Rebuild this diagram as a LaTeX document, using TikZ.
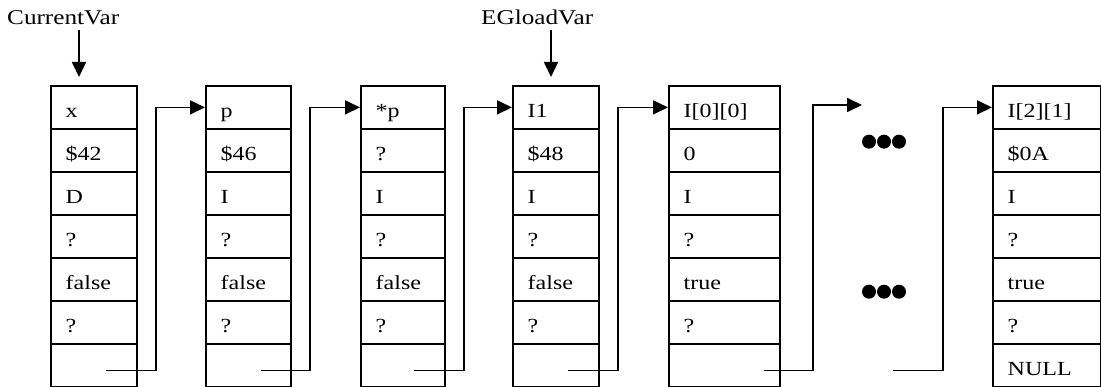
\documentclass[tikz,border=0pt]{standalone}
\usepackage{fontspec}
\setmainfont{Liberation Serif}[FakeStretch=1.2]
\usetikzlibrary{arrows.meta}

% one column of record fields: #1 name, #2 left edge, #3 width, #4 field texts
\newcommand\recordstack[4]{%
  \foreach \t [count=\i] in {#4} {
    \node[cell, minimum width=#3pt] (#1-\i) at (#2, {84.7+43*(\i-1)}) {};
    \node[txt, xshift=15.5pt, yshift=12.5pt] (#1-t\i) at (#1-\i.south west) {\t};
  }%
}

\begin{document}
\begin{tikzpicture}[x=1pt, y=-1pt,
  cell/.style={draw, line width=2.4pt, minimum height=43pt, inner sep=0pt, anchor=north west},
  txt/.style={anchor=base west, inner sep=0pt, font=\fontsize{20}{24}\selectfont},
  toplabel/.style={anchor=base west, inner sep=0pt, font=\fontsize{21}{25}\selectfont},
  conn/.style={line width=1.7pt, -{Triangle[length=15pt,width=14pt]}},
  dotmark/.style={circle, fill=black, inner sep=0pt, minimum size=14pt}
]
\useasboundingbox (0,0) rectangle (1101,387);

% records
\recordstack{r1}{50}{86}{x,\$42,D,?,false,?,{}}
\recordstack{r2}{205}{85}{p,\$46,I,?,false,?,{}}
\recordstack{r3}{360}{84}{*p,?,I,?,false,?,{}}
\recordstack{r4}{512}{86}{I1,\$48,I,?,false,?,{}}
\recordstack{r5}{668}{111}{I[0][0],0,I,?,true,?,{}}
\recordstack{r6}{992}{107.5}{I[2][1],\$0A,I,?,true,?,NULL}

% top pointers
\node[toplabel] (cv) at (7,25) {CurrentVar};
\node[toplabel] (eg) at (481,25) {EGloadVar};
\coordinate (cvS) at (79,30);
\coordinate (cvT) at (79,77);
\coordinate (egS) at (551,30);
\coordinate (egT) at (551,77);
\draw[conn] (cvS) -- (cvT);
\draw[conn] (egS) -- (egT);

% next links
\coordinate (o1) at (106,370.5);  \coordinate (k1) at (156,370.5);
\coordinate (o2) at (261,370.5);  \coordinate (k2) at (310,370.5);
\coordinate (o3) at (414,370.5);  \coordinate (k3) at (464,370.5);
\coordinate (o4) at (568,370.5);  \coordinate (k4) at (618,370.5);
\coordinate (o5) at (764,370.5);  \coordinate (k5) at (813,370.5);
\coordinate (o6) at (893,370.5);  \coordinate (k6) at (943,370.5);
\coordinate (gapIn) at (862,105);

\draw[conn] (o1) -- (k1) |- (r2-1.west);
\draw[conn] (o2) -- (k2) |- (r3-1.west);
\draw[conn] (o3) -- (k3) |- (r4-1.west);
\draw[conn] (o4) -- (k4) |- (r5-1.west);
\draw[conn] (o5) -- (k5) |- (gapIn);
\draw[conn] (o6) -- (k6) |- (r6-1.west);

% elided records
\node[dotmark] (da1) at (869,141.7) {};
\node[dotmark] (da2) at (884,141.7) {};
\node[dotmark] (da3) at (899,141.7) {};
\node[dotmark] (db1) at (869,291.7) {};
\node[dotmark] (db2) at (884,291.7) {};
\node[dotmark] (db3) at (899,291.7) {};
\end{tikzpicture}
\end{document}
